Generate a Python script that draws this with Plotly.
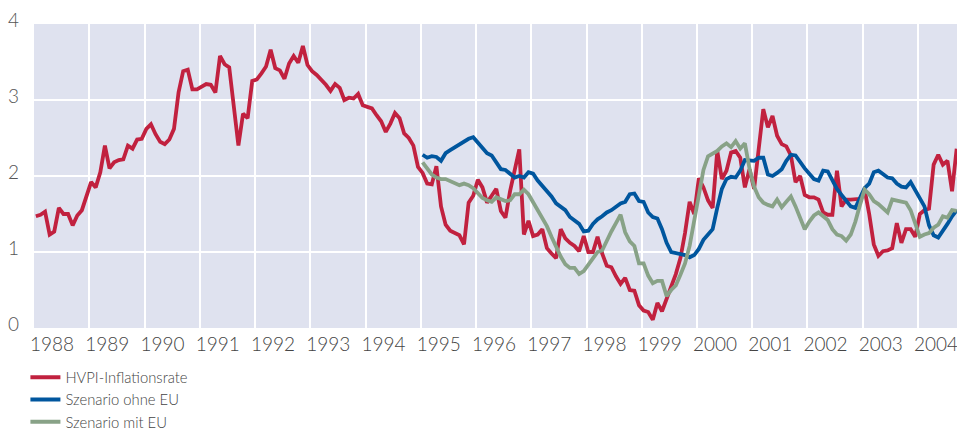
import plotly.graph_objects as go

# ---- data (monthly) ----
years = list(range(1988, 2005))
start_year = 1988

hvpi = [
    1.47, 1.49, 1.53, 1.23, 1.27, 1.58, 1.50, 1.50, 1.35, 1.48, 1.55, 1.72,  # 1988
    1.92, 1.85, 2.05, 2.40, 2.10, 2.18, 2.21, 2.22, 2.40, 2.36, 2.48, 2.49,  # 1989
    2.62, 2.68, 2.55, 2.45, 2.42, 2.48, 2.62, 3.10, 3.38, 3.40, 3.14, 3.14,  # 1990
    3.17, 3.21, 3.20, 3.10, 3.58, 3.47, 3.43, 2.90, 2.40, 2.82, 2.76, 3.25,  # 1991
    3.27, 3.35, 3.44, 3.66, 3.42, 3.39, 3.28, 3.48, 3.58, 3.49, 3.71, 3.46,  # 1992
    3.38, 3.33, 3.27, 3.20, 3.12, 3.21, 3.16, 3.00, 3.03, 3.02, 3.08, 2.93,  # 1993
    2.91, 2.89, 2.80, 2.72, 2.58, 2.69, 2.83, 2.76, 2.56, 2.50, 2.40, 2.12,  # 1994
    2.04, 1.90, 1.89, 2.13, 1.60, 1.36, 1.28, 1.25, 1.22, 1.10, 1.65, 1.74,  # 1995
    1.95, 1.85, 1.65, 1.74, 1.83, 1.54, 1.45, 1.80, 2.05, 2.35, 1.23, 1.41,  # 1996
    1.21, 1.23, 1.30, 1.05, 0.98, 0.92, 1.30, 1.18, 1.12, 1.08, 1.01, 1.21,  # 1997
    1.00, 1.00, 1.20, 0.98, 0.82, 0.80, 0.68, 0.58, 0.66, 0.50, 0.49, 0.30,  # 1998
    0.23, 0.21, 0.11, 0.33, 0.22, 0.38, 0.52, 0.71, 0.92, 1.25, 1.66, 1.50,  # 1999
    1.97, 1.85, 1.68, 1.58, 2.33, 1.96, 2.07, 2.31, 2.33, 2.24, 1.85, 2.09,  # 2000
    1.83, 2.35, 2.88, 2.64, 2.79, 2.53, 2.42, 2.39, 2.27, 1.92, 2.00, 1.75,  # 2001
    1.72, 1.72, 1.69, 1.52, 1.49, 1.49, 2.07, 1.60, 1.69, 1.69, 1.69, 1.70,  # 2002
    1.82, 1.50, 1.10, 0.95, 1.01, 1.02, 1.05, 1.38, 1.12, 1.30, 1.30, 1.20,  # 2003
    1.50, 1.55, 1.57, 2.15, 2.28, 2.15, 2.20, 1.80, 2.36,                    # 2004
]

scenario_start_month = 84  # Jan 1995

ohne_eu = [
    2.28, 2.24, 2.26, 2.25, 2.20, 2.30, 2.34, 2.38, 2.42, 2.45, 2.49, 2.51,  # 1995
    2.44, 2.37, 2.30, 2.27, 2.17, 2.09, 2.08, 2.03, 1.98, 2.00, 1.98, 2.05,  # 1996
    2.03, 1.94, 1.87, 1.80, 1.73, 1.64, 1.59, 1.55, 1.46, 1.42, 1.37, 1.27,  # 1997
    1.28, 1.37, 1.43, 1.47, 1.52, 1.55, 1.60, 1.64, 1.66, 1.76, 1.77, 1.67,  # 1998
    1.66, 1.52, 1.46, 1.44, 1.30, 1.12, 1.00, 0.99, 0.98, 0.96, 0.93, 0.96,  # 1999
    1.04, 1.16, 1.23, 1.30, 1.58, 1.83, 1.96, 1.99, 1.98, 2.07, 2.21, 2.20,  # 2000
    2.20, 2.24, 2.24, 2.02, 2.00, 2.04, 2.09, 2.20, 2.28, 2.27, 2.18, 2.10,  # 2001
    2.03, 1.96, 1.94, 2.07, 2.06, 1.94, 1.83, 1.75, 1.67, 1.60, 1.58, 1.72,  # 2002
    1.84, 1.90, 2.05, 2.07, 2.03, 1.98, 1.97, 1.90, 1.86, 1.85, 1.92, 1.82,  # 2003
    1.70, 1.60, 1.35, 1.22, 1.19, 1.27, 1.37, 1.47, 1.55,                    # 2004
]

mit_eu = [
    2.18, 2.09, 2.02, 1.98, 1.96, 1.96, 1.93, 1.90, 1.88, 1.90, 1.88, 1.84,  # 1995
    1.77, 1.71, 1.68, 1.66, 1.72, 1.69, 1.67, 1.68, 1.76, 1.76, 1.82, 1.76,  # 1996
    1.66, 1.56, 1.46, 1.34, 1.20, 1.07, 0.94, 0.84, 0.79, 0.79, 0.71, 0.75,  # 1997
    0.83, 0.90, 1.00, 1.02, 1.15, 1.27, 1.38, 1.49, 1.26, 1.14, 1.08, 0.85,  # 1998
    0.85, 0.69, 0.59, 0.62, 0.62, 0.42, 0.50, 0.56, 0.70, 0.85, 1.08, 1.40,  # 1999
    1.78, 2.08, 2.26, 2.30, 2.33, 2.39, 2.43, 2.38, 2.46, 2.36, 2.43, 2.10,  # 2000
    1.86, 1.72, 1.65, 1.62, 1.60, 1.69, 1.59, 1.66, 1.73, 1.60, 1.45, 1.30,  # 2001
    1.40, 1.48, 1.52, 1.47, 1.42, 1.30, 1.23, 1.21, 1.15, 1.23, 1.40, 1.62,  # 2002
    1.82, 1.76, 1.67, 1.63, 1.58, 1.52, 1.69, 1.68, 1.67, 1.65, 1.55, 1.38,  # 2003
    1.20, 1.23, 1.25, 1.32, 1.36, 1.47, 1.45, 1.55, 1.54,                    # 2004
]

series_names = ["HVPI-Inflationsrate", "Szenario ohne EU", "Szenario mit EU"]
y_ticks = [0, 1, 2, 3, 4]

# ---- styling ----
colors = ["#c1213f", "#00569e", "#88a287"]
bg = "#dfe2ef"
txt = "#444444"
FONT = "Lato, 'Open Sans', sans-serif"

def month_x(m):
    return start_year + (m + 0.4) / 12.0

x_h = [month_x(m) for m in range(len(hvpi))]
x_s = [month_x(scenario_start_month + m) for m in range(len(ohne_eu))]
x_g = [month_x(scenario_start_month + m) for m in range(len(mit_eu))]

x_end = start_year + 16.706

fig = go.Figure()
for xs, ys, name, c in [(x_h, hvpi, series_names[0], colors[0]),
                        (x_s, ohne_eu, series_names[1], colors[1]),
                        (x_g, mit_eu, series_names[2], colors[2])]:
    fig.add_trace(go.Scatter(x=xs, y=ys, name=name, mode="lines",
                             line=dict(color=c, width=3.8)))

fig.update_layout(
    width=957, height=430,
    margin=dict(l=34, r=0, t=24, b=102, autoexpand=False),
    paper_bgcolor="white",
    plot_bgcolor=bg,
    font=dict(family=FONT, color=txt, size=18, weight=300),
    showlegend=True,
    legend=dict(orientation="v", x=-0.0093, xanchor="left", y=-0.109, yanchor="top",
                font=dict(size=14.8, color=txt, family=FONT, weight=300),
                bgcolor="rgba(0,0,0,0)", tracegroupgap=0),
    xaxis=dict(range=[start_year, x_end], showgrid=True, gridcolor="white",
               gridwidth=2, zeroline=False, automargin=False,
               tickmode="array", tickvals=years, ticktext=[str(y) for y in years],
               ticks="", tickfont=dict(size=19, color=txt),
               ticklabelposition="outside right", ticklabeloverflow="allow",
               ticklabelstandoff=3, ticklabelshift=-4),
    yaxis=dict(range=[0, 4], tickvals=y_ticks, showgrid=True, gridcolor="white",
               gridwidth=2, zeroline=False, ticks="", automargin=False,
               tickfont=dict(size=19, color="#555555"),
               ticklabelstandoff=14, ticklabelshift=-4),
)

fig.write_html(
    "out.html",
    config={"displayModeBar": False},
    post_script="document.body.style.margin='0px';document.body.style.overflow='hidden';",
)
